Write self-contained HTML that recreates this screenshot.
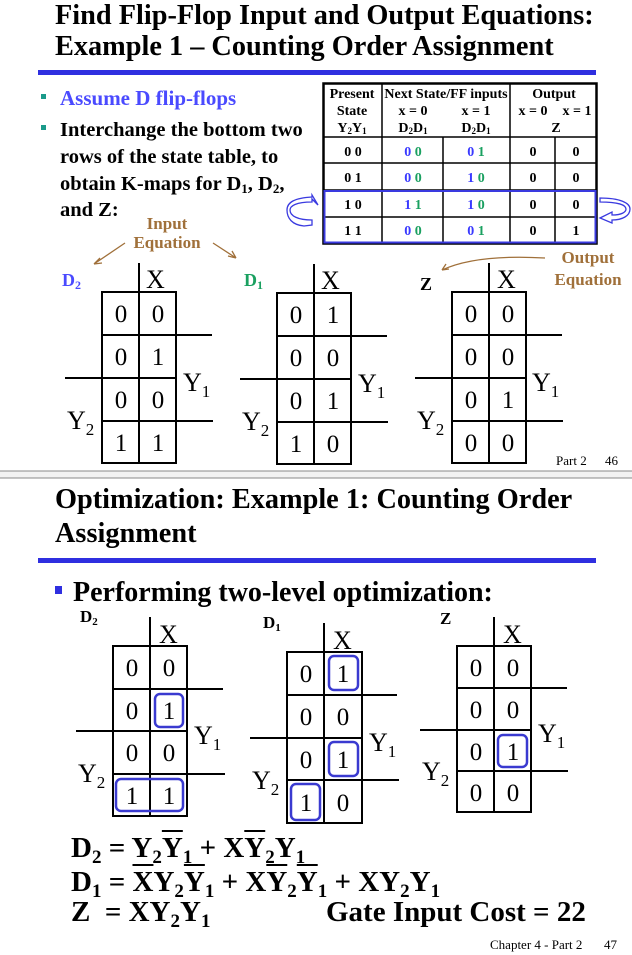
<!DOCTYPE html>
<html><head><meta charset="utf-8"><style>
html,body{margin:0;padding:0;background:#fff;}
body{width:632px;height:955px;position:relative;overflow:hidden;font-family:"Liberation Serif","DejaVu Serif",serif;}
svg text{font-family:"Liberation Serif","DejaVu Serif",serif;}
.eq{position:absolute;font-weight:bold;font-size:29px;color:#000;white-space:nowrap;line-height:1;}
.eq sub{font-size:19px;vertical-align:-6px;}
.ol{text-decoration:overline;}
</style></head><body>
<svg width="632" height="955" style="position:absolute;left:0;top:0">
<text x="55" y="24" font-size="28.3" font-weight="bold">Find Flip-Flop Input and Output Equations:</text>
<text x="55" y="55" font-size="28.3" font-weight="bold">Example 1 – Counting Order Assignment</text>
<rect x="38" y="70" width="558" height="5" fill="#2f2fe0"/>
<rect x="41" y="94" width="5" height="5" fill="#1a9a8a"/>
<text x="60" y="105" font-size="21" font-weight="bold" fill="#4a4aff">Assume D flip-flops</text>
<rect x="41" y="125" width="5" height="5" fill="#1a9a8a"/>
<g font-size="20.5" font-weight="bold">
<text x="60" y="136">Interchange the bottom two</text>
<text x="60" y="163">rows of the state table, to</text>
<text x="60" y="190">obtain K-maps for D<tspan font-size="13" dy="3">1</tspan><tspan dy="-3">, D</tspan><tspan font-size="13" dy="3">2</tspan><tspan dy="-3">,</tspan></text>
<text x="60" y="216">and Z:</text>
</g>
<g stroke="#000" fill="none">
<rect x="323.5" y="83.5" width="273" height="160" stroke-width="2.5"/>
<line x1="382" y1="83" x2="382" y2="243" stroke-width="1.5"/>
<line x1="510" y1="83" x2="510" y2="243" stroke-width="1.5"/>
<line x1="443" y1="137" x2="443" y2="243" stroke-width="1.5"/>
<line x1="555" y1="137" x2="555" y2="243" stroke-width="1.5"/>
<line x1="323" y1="137" x2="597" y2="137" stroke-width="1.5"/>
<line x1="323" y1="163" x2="597" y2="163" stroke-width="1.5"/>
<line x1="323" y1="190" x2="597" y2="190" stroke-width="1.5"/>
<line x1="323" y1="217" x2="597" y2="217" stroke-width="1.5"/>
</g>
<rect x="324.5" y="191" width="271" height="51.5" fill="none" stroke="#3a3ae0" stroke-width="2"/>
<g font-size="14" font-weight="bold" text-anchor="middle">
<text x="352" y="98">Present</text><text x="352" y="115">State</text>
<text x="352" y="132">Y<tspan font-size="9" dy="2">2</tspan><tspan dy="-2">Y</tspan><tspan font-size="9" dy="2">1</tspan></text>
<text x="446" y="98">Next State/FF inputs</text>
<text x="413" y="115">x = 0</text><text x="476" y="115">x = 1</text>
<text x="413" y="132">D<tspan font-size="9" dy="2">2</tspan><tspan dy="-2">D</tspan><tspan font-size="9" dy="2">1</tspan></text>
<text x="476" y="132">D<tspan font-size="9" dy="2">2</tspan><tspan dy="-2">D</tspan><tspan font-size="9" dy="2">1</tspan></text>
<text x="554" y="98">Output</text>
<text x="533" y="115">x = 0</text><text x="577" y="115">x = 1</text>
<text x="556" y="132">Z</text>
<text x="353" y="156">0 0</text><text x="353" y="182">0 1</text><text x="353" y="209">1 0</text><text x="353" y="235">1 1</text>
<text x="413" y="156"><tspan fill="#3a3aff">0</tspan> <tspan fill="#1aa060">0</tspan></text>
<text x="413" y="182"><tspan fill="#3a3aff">0</tspan> <tspan fill="#1aa060">0</tspan></text>
<text x="413" y="209"><tspan fill="#3a3aff">1</tspan> <tspan fill="#1aa060">1</tspan></text>
<text x="413" y="235"><tspan fill="#3a3aff">0</tspan> <tspan fill="#1aa060">0</tspan></text>
<text x="476" y="156"><tspan fill="#3a3aff">0</tspan> <tspan fill="#1aa060">1</tspan></text>
<text x="476" y="182"><tspan fill="#3a3aff">1</tspan> <tspan fill="#1aa060">0</tspan></text>
<text x="476" y="209"><tspan fill="#3a3aff">1</tspan> <tspan fill="#1aa060">0</tspan></text>
<text x="476" y="235"><tspan fill="#3a3aff">0</tspan> <tspan fill="#1aa060">1</tspan></text>
<text x="533" y="156">0</text><text x="533" y="182">0</text><text x="533" y="209">0</text><text x="533" y="235">0</text>
<text x="576" y="156">0</text><text x="576" y="182">0</text><text x="576" y="209">0</text><text x="576" y="235">1</text>
</g>
<g fill="none" stroke="#3a3ae0" stroke-width="1.3">
<path d="M318,205 L312,199 L312,202 C296,202 290,206 290,210 C290,216 298,220 312,220 L312,225 L304,226 C292,225 287,218 287,210 C287,202 295,198 312,197 L312,195 Z"/>
<path d="M600,198 C620,198 630,203 630,209 C630,216 622,220 612,220 L612,223 L600,218 L612,212 L612,215 C622,215 626,212 626,209 C626,205 618,202 600,202 Z"/>
</g>
<g font-size="17" font-weight="bold" fill="#a0703a">
<text x="167" y="229" text-anchor="middle">Input</text>
<text x="167" y="248" text-anchor="middle">Equation</text>
<text x="588" y="263" text-anchor="middle">Output</text>
<text x="588" y="285" text-anchor="middle">Equation</text>
</g>
<g stroke="#a0703a" stroke-width="1.3" fill="none">
<path d="M125,243 L94,264 M94,264 L100,258 M94,264 L102,263"/>
<path d="M213,243 L236,258 M236,258 L228,256 M236,258 L232,251"/>
<path d="M545,258 C510,256 470,257 442,270 M442,270 L449,269 M442,270 L446,264"/>
</g>
<g stroke="#000" stroke-width="2" fill="none">
<rect x="102" y="292" width="74" height="171"/>
<line x1="139" y1="263" x2="139" y2="463"/>
<line x1="102" y1="335" x2="212" y2="335"/>
<line x1="65" y1="378" x2="176" y2="378"/>
<line x1="102" y1="421" x2="213" y2="421"/>
<rect x="277" y="293" width="74" height="171"/>
<line x1="314" y1="264" x2="314" y2="464"/>
<line x1="277" y1="336" x2="387" y2="336"/>
<line x1="240" y1="379" x2="351" y2="379"/>
<line x1="277" y1="422" x2="388" y2="422"/>
<rect x="452" y="292" width="74" height="171"/>
<line x1="489" y1="263" x2="489" y2="463"/>
<line x1="452" y1="335" x2="562" y2="335"/>
<line x1="415" y1="378" x2="526" y2="378"/>
<line x1="452" y1="421" x2="563" y2="421"/>
</g>
<g font-size="18" font-weight="bold">
<text x="62" y="286" fill="#4a4aff">D<tspan font-size="12" dy="3">2</tspan></text>
<text x="244" y="286" fill="#1aa060">D<tspan font-size="12" dy="3">1</tspan></text>
<text x="420" y="290">Z</text>
</g>
<g font-size="26">
<text x="146" y="288">X</text><text x="321" y="289">X</text><text x="497" y="288">X</text>
<text x="183" y="391">Y<tspan font-size="17" dy="6">1</tspan></text>
<text x="358" y="392">Y<tspan font-size="17" dy="6">1</tspan></text>
<text x="532" y="391">Y<tspan font-size="17" dy="6">1</tspan></text>
<text x="67" y="429">Y<tspan font-size="17" dy="6">2</tspan></text>
<text x="242" y="430">Y<tspan font-size="17" dy="6">2</tspan></text>
<text x="417" y="429">Y<tspan font-size="17" dy="6">2</tspan></text>
</g>
<g font-size="25" text-anchor="middle">
<text x="121" y="322">0</text><text x="158" y="322">0</text>
<text x="121" y="365">0</text><text x="158" y="365">1</text>
<text x="121" y="408">0</text><text x="158" y="408">0</text>
<text x="121" y="451">1</text><text x="158" y="451">1</text>
<text x="296" y="323">0</text><text x="333" y="323">1</text>
<text x="296" y="366">0</text><text x="333" y="366">0</text>
<text x="296" y="409">0</text><text x="333" y="409">1</text>
<text x="296" y="452">1</text><text x="333" y="452">0</text>
<text x="471" y="322">0</text><text x="508" y="322">0</text>
<text x="471" y="365">0</text><text x="508" y="365">0</text>
<text x="471" y="408">0</text><text x="508" y="408">1</text>
<text x="471" y="451">0</text><text x="508" y="451">0</text>
</g>
<text x="556" y="465" font-size="13">Part 2</text><text x="605" y="465" font-size="13">46</text>
<rect x="0" y="471" width="632" height="7" fill="#f2f2f2"/>
<line x1="0" y1="471" x2="632" y2="471" stroke="#888" stroke-width="1"/>
<line x1="0" y1="478" x2="632" y2="478" stroke="#888" stroke-width="1"/>
<text x="55" y="508" font-size="28.3" font-weight="bold">Optimization: Example 1: Counting Order</text>
<text x="55" y="542" font-size="28.3" font-weight="bold">Assignment</text>
<rect x="38" y="558" width="558" height="5" fill="#2f2fe0"/>
<rect x="55" y="586" width="7" height="8" fill="#2f2fe0"/>
<text x="73" y="601" font-size="28" font-weight="bold">Performing two-level optimization:</text>
<g stroke="#000" stroke-width="2" fill="none">
<rect x="113" y="646" width="74" height="170"/>
<line x1="150" y1="617" x2="150" y2="816"/>
<line x1="113" y1="689" x2="223" y2="689"/>
<line x1="76" y1="731" x2="187" y2="731"/>
<line x1="113" y1="774" x2="225" y2="774"/>
<rect x="287" y="652" width="75" height="171"/>
<line x1="324" y1="623" x2="324" y2="823"/>
<line x1="287" y1="695" x2="397" y2="695"/>
<line x1="250" y1="738" x2="362" y2="738"/>
<line x1="287" y1="780" x2="399" y2="780"/>
<rect x="457" y="646" width="74" height="166"/>
<line x1="494" y1="617" x2="494" y2="812"/>
<line x1="457" y1="688" x2="567" y2="688"/>
<line x1="420" y1="730" x2="531" y2="730"/>
<line x1="457" y1="771" x2="568" y2="771"/>
</g>
<g fill="none" stroke="#3a3ad0" stroke-width="2.5">
<rect x="155" y="694" width="28" height="33" rx="5"/>
<rect x="116" y="779" width="67" height="32" rx="5"/>
<rect x="329" y="656" width="29" height="34" rx="5"/>
<rect x="329" y="742" width="29" height="34" rx="5"/>
<rect x="291" y="784" width="29" height="36" rx="5"/>
<rect x="498" y="735" width="29" height="32" rx="5"/>
</g>
<g font-size="17" font-weight="bold">
<text x="80" y="622">D<tspan font-size="11" dy="3">2</tspan></text>
<text x="263" y="628">D<tspan font-size="11" dy="3">1</tspan></text>
<text x="440" y="624">Z</text>
</g>
<g font-size="26">
<text x="159" y="643">X</text><text x="333" y="649">X</text><text x="503" y="643">X</text>
<text x="194" y="744">Y<tspan font-size="17" dy="6">1</tspan></text>
<text x="369" y="751">Y<tspan font-size="17" dy="6">1</tspan></text>
<text x="538" y="742">Y<tspan font-size="17" dy="6">1</tspan></text>
<text x="78" y="782">Y<tspan font-size="17" dy="6">2</tspan></text>
<text x="252" y="789">Y<tspan font-size="17" dy="6">2</tspan></text>
<text x="422" y="780">Y<tspan font-size="17" dy="6">2</tspan></text>
</g>
<g font-size="25" text-anchor="middle">
<text x="132" y="676">0</text><text x="169" y="676">0</text>
<text x="132" y="719">0</text><text x="169" y="719">1</text>
<text x="132" y="761">0</text><text x="169" y="761">0</text>
<text x="132" y="804">1</text><text x="169" y="804">1</text>
<text x="306" y="682">0</text><text x="343" y="682">1</text>
<text x="306" y="725">0</text><text x="343" y="725">0</text>
<text x="306" y="768">0</text><text x="343" y="768">1</text>
<text x="306" y="811">1</text><text x="343" y="811">0</text>
<text x="476" y="676">0</text><text x="513" y="676">0</text>
<text x="476" y="718">0</text><text x="513" y="718">0</text>
<text x="476" y="760">0</text><text x="513" y="760">1</text>
<text x="476" y="801">0</text><text x="513" y="801">0</text>
</g>
<text x="490" y="949" font-size="13">Chapter 4 - Part 2</text><text x="604" y="949" font-size="13">47</text>
</svg>
<div class="eq" style="left:71px;top:834px;">D<sub>2</sub> = Y<sub>2</sub><span class="ol">Y</span><sub>1</sub> + X<span class="ol">Y</span><sub>2</sub>Y<sub>1</sub></div>
<div class="eq" style="left:71px;top:868px;">D<sub>1</sub> = <span class="ol">X</span>Y<sub>2</sub><span class="ol">Y</span><sub>1</sub> + X<span class="ol">Y</span><sub>2</sub><span class="ol">Y</span><sub>1</sub> + XY<sub>2</sub>Y<sub>1</sub></div>
<div class="eq" style="left:71px;top:898px;">Z&nbsp; = XY<sub>2</sub>Y<sub>1</sub></div>
<div class="eq" style="left:326px;top:898px;">Gate Input Cost = 22</div>
</body></html>
